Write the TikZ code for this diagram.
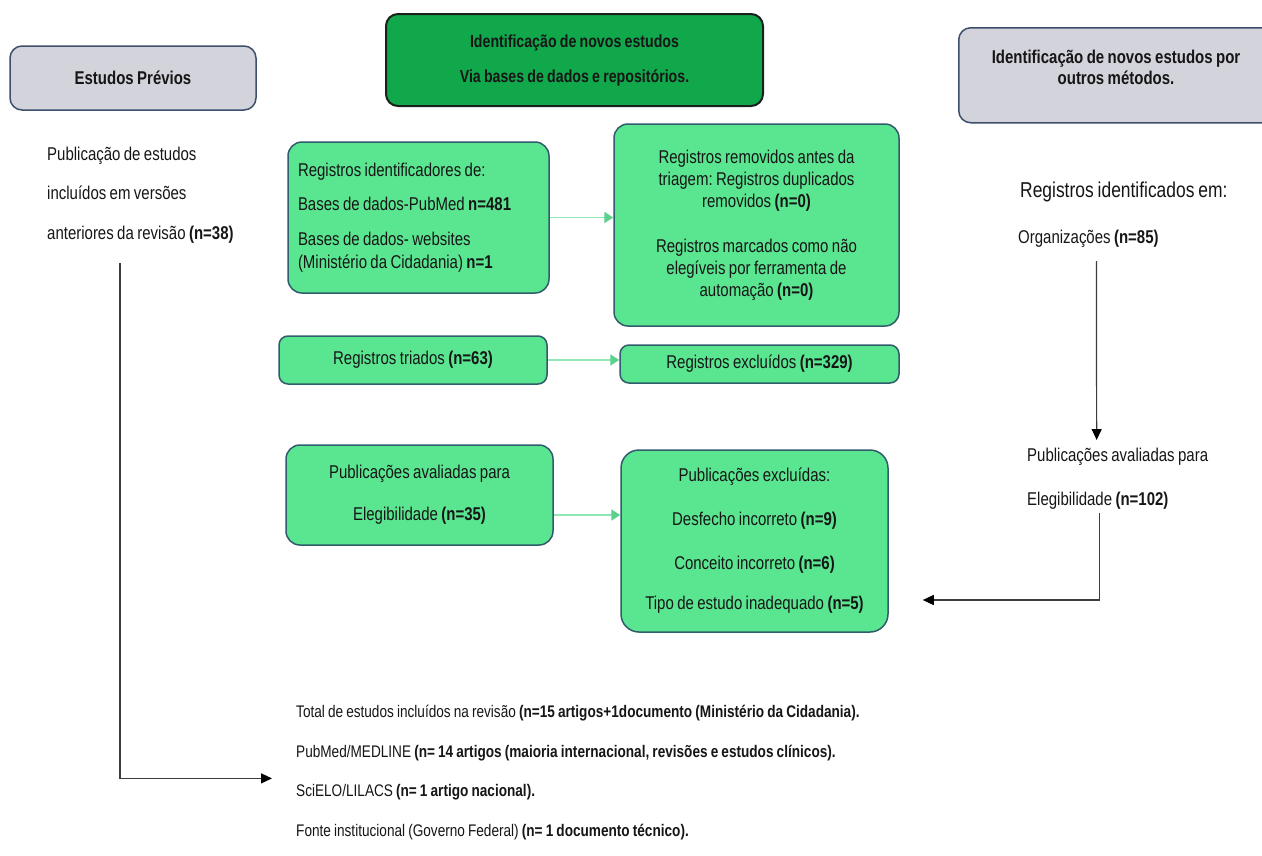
\documentclass[tikz,border=0pt]{standalone}
\usepackage{fontspec}
\setmainfont{Liberation Sans}[FakeStretch=0.81,WordSpace=0.82]
\usetikzlibrary{arrows.meta}
\frenchspacing
\definecolor{lgreen}{RGB}{90,229,145}
\definecolor{bordc}{RGB}{47,93,107}
\definecolor{hgreen}{RGB}{17,168,76}
\definecolor{hgreenb}{RGB}{26,32,28}
\definecolor{grayf}{RGB}{211,211,219}
\definecolor{grayb}{RGB}{61,79,107}
\definecolor{arrl}{RGB}{143,232,181}
\definecolor{arrt}{RGB}{92,208,141}
\definecolor{txtc}{RGB}{22,22,22}
\definecolor{linec}{RGB}{60,60,60}
\tikzset{
  txt/.style={text=txtc, inner sep=0pt, font=\fontsize{18.5}{23}\selectfont},
  gbox/.style={draw=bordc, fill=lgreen, line width=1.5pt, rounded corners=14pt,
    inner sep=0pt, text=txtc, font=\fontsize{18.5}{23}\selectfont, align=center},
  hdrgray/.style={draw=grayb, fill=grayf, line width=1.5pt, rounded corners=12pt,
    inner sep=0pt, text=txtc, font=\fontsize{18.5}{23}\selectfont\bfseries, align=center},
  hdrgreen/.style={draw=hgreenb, fill=hgreen, line width=2pt, rounded corners=12pt,
    inner sep=0pt, text=txtc, font=\fontsize{17.5}{23}\selectfont\bfseries, align=center},
  garrow/.style={draw=arrl, line width=1.8pt, -{Triangle[length=9pt,width=11pt,fill=arrt,color=arrt]}},
  blk/.style={draw=linec, line width=1.2pt, -{Triangle[length=11pt,width=10pt,fill=black,color=black]}}
}
\begin{document}
\begin{tikzpicture}[x=1pt,y=-1pt]
\clip (0,0) rectangle (1262,855);
\fill[white] (0,0) rectangle (1262,855);

% headers
\node[hdrgray, minimum width=246pt, minimum height=64pt] (prev) at (133,78) {Estudos Prévios};
\node[hdrgreen, minimum width=377pt, minimum height=92pt] (hdrA) at (574.5,60)
  {Identificação de novos estudos\\[12pt]Via bases de dados e repositórios.};
\node[hdrgray, minimum width=340pt, minimum height=95pt, anchor=north west] (hdrB) at (958,27) {};
\node[txt, font=\fontsize{18.5}{21}\selectfont\bfseries, align=center] (hdrBt) at (1116,67)
  {Identificação de novos estudos por\\outros métodos.};

% left column
\node[txt, font=\fontsize{18.5}{39.5}\selectfont, align=left, anchor=west] (prevtxt) at (47,195)
  {Publicação de estudos\\incluídos em versões\\anteriores da revisão \textbf{(n=38)}};
\coordinate (prevout) at (120,263);

% central boxes
\node[gbox, text width=241pt, align=flush left, inner xsep=10pt, minimum height=151pt] (ident) at (418.5,217.5)
  {Registros identificadores de:\\[11pt]Bases de dados-PubMed \textbf{n=481}\\[12pt]Bases de dados- websites\\(Ministério da Cidadania) \textbf{n=1}};
\node[gbox, text width=265pt, align=flush center, font=\fontsize{18.5}{22}\selectfont, minimum width=285pt, minimum height=202pt] (rem) at (756.5,225)
  {Registros removidos antes da\\triagem: Registros duplicados\\removidos \textbf{(n=0)}\\[23pt]Registros marcados como não\\elegíveis por ferramenta de\\automação \textbf{(n=0)}};
\node[gbox, rounded corners=9pt, minimum width=268pt, minimum height=48pt] (tri) at (413,360)
  {Registros triados \textbf{(n=63)}};
\node[gbox, rounded corners=9pt, minimum width=279pt, minimum height=38pt] (exc) at (759.5,364)
  {Registros excluídos \textbf{(n=329)}};
\node[gbox, minimum width=267pt, minimum height=100pt] (aval) at (419.5,495)
  {Publicações avaliadas para\\[19pt]Elegibilidade \textbf{(n=35)}};
\node[gbox, rounded corners=18pt, minimum width=267pt, minimum height=182pt] (excl) at (754.5,541)
  {Publicações excluídas:\\[21pt]Desfecho incorreto \textbf{(n=9)}\\[21pt]Conceito incorreto \textbf{(n=6)}\\[17pt]Tipo de estudo inadequado \textbf{(n=5)}};

% right column
\node[txt, font=\fontsize{21.5}{24}\selectfont, anchor=base west] (regid) at (1020,197) {Registros identificados em:};
\node[txt, anchor=base west] (org) at (1018,243) {Organizações \textbf{(n=85)}};
\node[txt, align=left, font=\fontsize{18.5}{44}\selectfont, anchor=north west] (aval2) at (1027,448)
  {Publicações avaliadas para\\Elegibilidade \textbf{(n=102)}};

% bottom text
\node[txt, align=left, font=\fontsize{16.8}{39.5}\selectfont, anchor=north west] (total) at (296,705)
  {Total de estudos incluídos na revisão \textbf{(n=15 artigos+1documento (Ministério da Cidadania).}\\
   PubMed/MEDLINE \textbf{(n= 14 artigos (maioria internacional, revisões e estudos clínicos).}\\
   SciELO/LILACS \textbf{(n= 1 artigo nacional).}\\
   Fonte institucional (Governo Federal) \textbf{(n= 1 documento técnico).}};

% connectors
\draw[garrow] (ident.east) -- (ident.east -| rem.west);
\draw[garrow] (tri.east) -- (tri.east -| exc.west);
\draw[garrow] ([yshift=-20pt]aval.east) -- ([yshift=-20pt]aval.east -| excl.west);
\draw[blk] (prevout) |- ([xshift=-24pt,yshift=-6pt]total.west);
\draw[blk] ([xshift=8pt,yshift=-14pt]org.south) -- ([xshift=-21pt,yshift=8pt]aval2.north);
\draw[blk] ([xshift=-18pt,yshift=-3pt]aval2.south) |- ([xshift=34pt,yshift=-59pt]excl.east);
\end{tikzpicture}
\end{document}
